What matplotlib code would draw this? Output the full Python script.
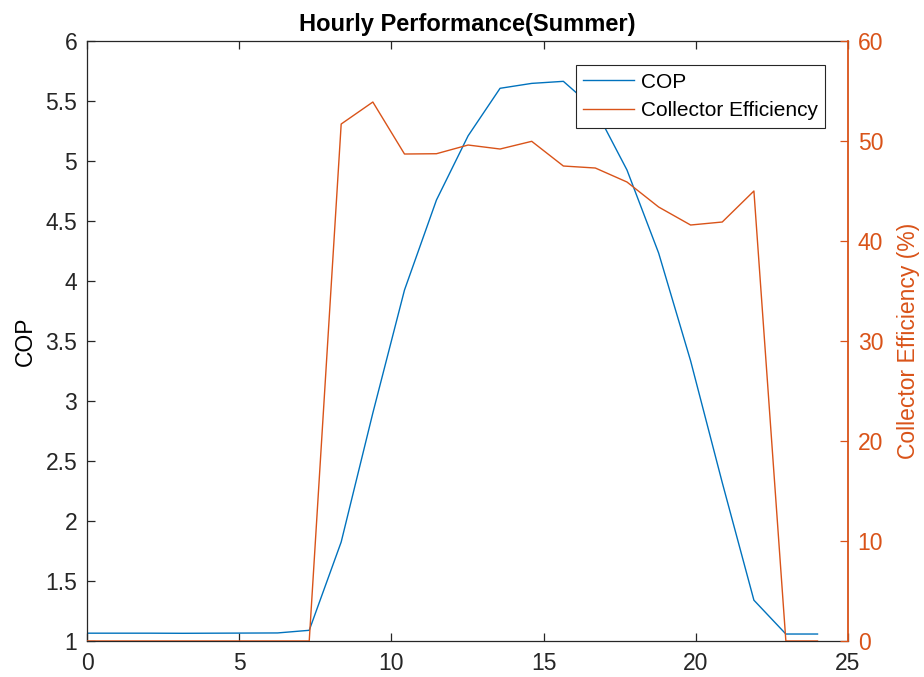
import matplotlib
matplotlib.use("Agg")
import matplotlib.pyplot as plt

plt.rcParams['font.family'] = ['Liberation Sans', 'DejaVu Sans']

# hour axis (24 samples over 0..24)
hours = [0.00, 1.04, 2.09, 3.13, 4.17, 5.22, 6.26, 7.30, 8.35, 9.39, 10.43, 11.48,
         12.52, 13.57, 14.61, 15.65, 16.70, 17.74, 18.78, 19.83, 20.87, 21.91, 22.96, 24.00]
cop = [1.065, 1.065, 1.065, 1.064, 1.065, 1.066, 1.067, 1.089, 1.825, 2.90, 3.925, 4.675,
       5.21, 5.606, 5.647, 5.664, 5.43, 4.925, 4.233, 3.335, 2.32, 1.34, 1.058, 1.058]
eff = [0, 0, 0, 0, 0, 0, 0, 0, 51.7, 53.9, 48.7, 48.73,
       49.6, 49.2, 49.97, 47.5, 47.3, 45.9, 43.4, 41.6, 41.9, 45.0, 0, 0]

blue = '#0072BD'
orange = '#D95319'
dark = '#262626'
fs = 16.5

fig = plt.figure(figsize=(9.24, 6.77), dpi=100)
ax = fig.add_axes([0.0942, 0.0532, 0.8235, 0.8862])
ax2 = ax.twinx()

l1, = ax.plot(hours, cop, color=blue, lw=1.0, label='COP')
l2, = ax2.plot(hours, eff, color=orange, lw=1.0, label='Collector Efficiency')

ax.set_xlim(0, 25)
ax.set_ylim(1, 6)
ax2.set_ylim(0, 60)
ax.set_xticks([0, 5, 10, 15, 20, 25])
ax.set_yticks([1, 1.5, 2, 2.5, 3, 3.5, 4, 4.5, 5, 5.5, 6])
ax.set_yticklabels(['1', '1.5', '2', '2.5', '3', '3.5', '4', '4.5', '5', '5.5', '6'])
ax2.set_yticks([0, 10, 20, 30, 40, 50, 60])

ax.tick_params(axis='both', direction='in', length=5.5, width=0.9, colors=dark,
               labelsize=fs, top=True, right=False)
ax.tick_params(axis='x', pad=8)
ax.tick_params(axis='y', pad=7)
ax2.tick_params(axis='y', direction='in', length=5.5, width=0.9, colors=orange,
                labelsize=fs, pad=7)

for s in ['left', 'top', 'bottom']:
    ax.spines[s].set_color(dark)
    ax.spines[s].set_linewidth(0.9)
for s in ['left', 'top', 'bottom']:
    ax2.spines[s].set_visible(False)
ax2.spines['right'].set_color(orange)
ax2.spines['right'].set_linewidth(1.3)
ax.spines['right'].set_visible(False)

ax.set_ylabel('COP', fontsize=fs, color='black', labelpad=6)
ax2.set_ylabel('Collector Efficiency (%)', fontsize=fs, color=orange, labelpad=10)
ax.set_title('Hourly Performance(Summer)', fontsize=17, fontweight='bold', pad=7)

leg = ax2.legend([l1, l2], ['COP', 'Collector Efficiency'], loc='upper right',
                 bbox_to_anchor=(0.97, 0.96), borderaxespad=0, fontsize=15,
                 fancybox=False, framealpha=1, edgecolor=dark, handlelength=2.45,
                 handletextpad=0.3, labelspacing=0.47, borderpad=0.36)
leg.get_frame().set_linewidth(0.8)

fig.savefig('out.png', dpi=100)
